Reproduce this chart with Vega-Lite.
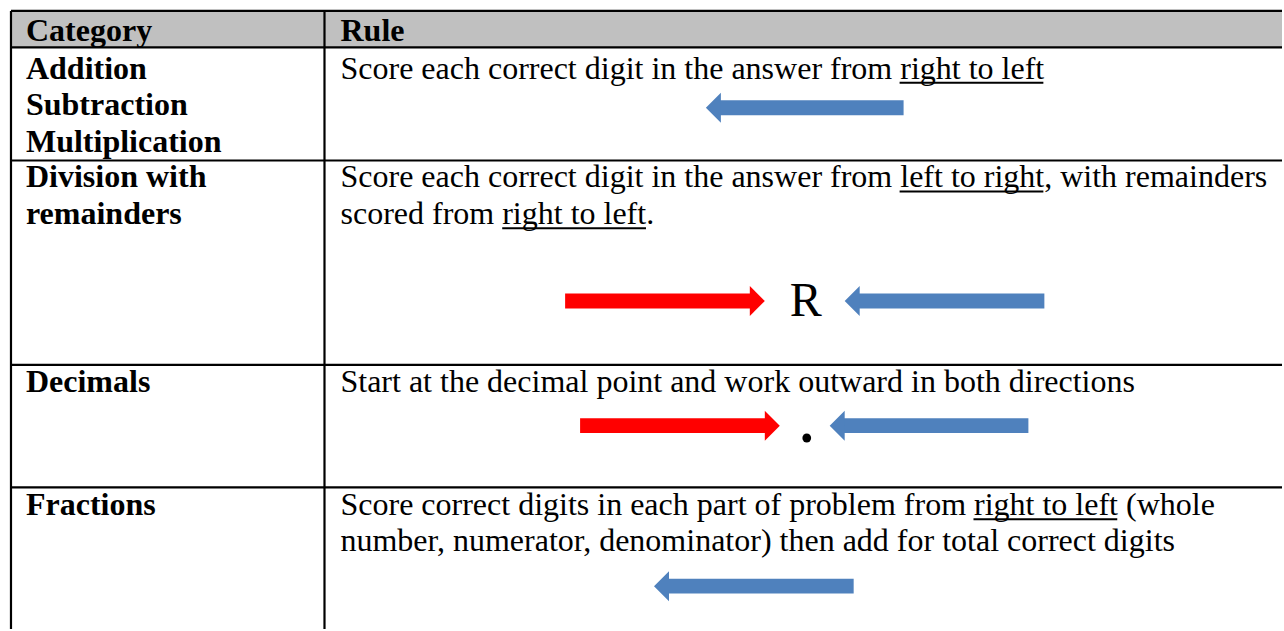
{
  "$schema": "https://vega.github.io/schema/vega-lite/v6.json",
  "autosize": {"type": "fit", "contains": "padding"},
  "width": 1284,
  "height": 631,
  "padding": 0,
  "background": "white",
  "config": {"view": {"stroke": null}},
  "datasets": {
    "header": [{"x": 11, "x2": 1284, "y": 11, "y2": 47.5}],
    "bold": [
      {"label": "Category", "x": 26, "y": 41},
      {"label": "Rule", "x": 341, "y": 41},
      {"label": "Addition", "x": 26, "y": 79},
      {"label": "Subtraction", "x": 26, "y": 115.5},
      {"label": "Multiplication", "x": 26, "y": 152},
      {"label": "Division with", "x": 26, "y": 188},
      {"label": "remainders", "x": 26, "y": 225},
      {"label": "Decimals", "x": 26, "y": 393},
      {"label": "Fractions", "x": 26, "y": 517}
    ],
    "normal": [
      {"label": "Score each correct digit in the answer from right to left", "x": 341, "y": 79},
      {"label": "Score each correct digit in the answer from left to right, with remainders", "x": 341, "y": 188},
      {"label": "scored from right to left.", "x": 341, "y": 225},
      {"label": "Start at the decimal point and work outward in both directions", "x": 341, "y": 393},
      {"label": "Score correct digits in each part of problem from right to left (whole", "x": 341, "y": 517},
      {"label": "number, numerator, denominator) then add for total correct digits", "x": 341, "y": 553}
    ],
    "symbols": [
      {"label": "R", "x": 807, "y": 317}
    ],
    "point": [
      {"label": ".", "x": 808, "y": 443}
    ],
    "underlines": [
      {"x": 901, "x2": 1045, "y": 83},
      {"x": 901, "x2": 1045, "y": 192},
      {"x": 503, "x2": 647, "y": 229},
      {"x": 975, "x2": 1119, "y": 521}
    ],
    "shafts": [
      {"dir": "left", "x": 721, "x2": 905, "y": 100.5, "y2": 115.5},
      {"dir": "right", "x": 566, "x2": 752, "y": 294.5, "y2": 309.5},
      {"dir": "left", "x": 860, "x2": 1046, "y": 294.5, "y2": 309.5},
      {"dir": "right", "x": 581, "x2": 767, "y": 419.5, "y2": 434.5},
      {"dir": "left", "x": 845, "x2": 1030, "y": 419.5, "y2": 434.5},
      {"dir": "left", "x": 669, "x2": 855, "y": 580.5, "y2": 595.5}
    ],
    "heads": [
      {"dir": "left", "x": 707, "y": 108},
      {"dir": "right", "x": 766, "y": 302},
      {"dir": "left", "x": 846, "y": 302},
      {"dir": "right", "x": 781, "y": 427},
      {"dir": "left", "x": 831, "y": 427},
      {"dir": "left", "x": 655, "y": 588}
    ],
    "hlines": [
      {"x": 11, "x2": 1284, "y": 11},
      {"x": 11, "x2": 1284, "y": 47.5},
      {"x": 11, "x2": 1284, "y": 161},
      {"x": 11, "x2": 1284, "y": 366},
      {"x": 11, "x2": 1284, "y": 489}
    ],
    "vlines": [
      {"x": 11, "y": 11, "y2": 631},
      {"x": 325, "y": 11, "y2": 631}
    ]
  },
  "encoding": {
    "x": {"field": "x", "type": "quantitative", "scale": {"domain": [0, 1284], "nice": false, "zero": false}, "axis": null},
    "y": {"field": "y", "type": "quantitative", "scale": {"domain": [0, 631], "nice": false, "zero": false, "reverse": true}, "axis": null}
  },
  "layer": [
    {
      "data": {"name": "header"},
      "mark": {"type": "rect", "color": "#C0C0C0"},
      "encoding": {"x2": {"field": "x2"}, "y2": {"field": "y2"}}
    },
    {
      "data": {"name": "bold"},
      "mark": {"type": "text", "font": "Liberation Serif", "fontSize": 32, "fontWeight": "bold", "align": "left", "baseline": "alphabetic", "color": "black"},
      "encoding": {"text": {"field": "label"}}
    },
    {
      "data": {"name": "normal"},
      "mark": {"type": "text", "font": "Liberation Serif", "fontSize": 32, "align": "left", "baseline": "alphabetic", "color": "black"},
      "encoding": {"text": {"field": "label"}}
    },
    {
      "data": {"name": "symbols"},
      "mark": {"type": "text", "font": "Liberation Serif", "fontSize": 48, "align": "center", "baseline": "alphabetic", "color": "black"},
      "encoding": {"text": {"field": "label"}}
    },
    {
      "data": {"name": "point"},
      "mark": {"type": "text", "font": "Liberation Serif", "fontSize": 54, "fontWeight": "bold", "align": "center", "baseline": "alphabetic", "color": "black"},
      "encoding": {"text": {"field": "label"}}
    },
    {
      "data": {"name": "underlines"},
      "mark": {"type": "rule", "color": "black", "strokeWidth": 2},
      "encoding": {"x2": {"field": "x2"}}
    },
    {
      "data": {"name": "shafts"},
      "mark": {"type": "rect"},
      "encoding": {
        "x2": {"field": "x2"},
        "y2": {"field": "y2"},
        "color": {"field": "dir", "type": "nominal", "scale": {"domain": ["right", "left"], "range": ["#FF0000", "#4F81BD"]}, "legend": null}
      }
    },
    {
      "data": {"name": "heads"},
      "mark": {"type": "point", "filled": true, "opacity": 1, "size": 900},
      "encoding": {
        "color": {"field": "dir", "type": "nominal", "scale": {"domain": ["right", "left"], "range": ["#FF0000", "#4F81BD"]}, "legend": null},
        "shape": {"field": "dir", "type": "nominal", "scale": {"domain": ["right", "left"], "range": ["M 0 0 L -1 -1 L -1 1 Z", "M 0 0 L 1 -1 L 1 1 Z"]}, "legend": null}
      }
    },
    {
      "data": {"name": "hlines"},
      "mark": {"type": "rule", "color": "black", "strokeWidth": 2.2},
      "encoding": {"x2": {"field": "x2"}}
    },
    {
      "data": {"name": "vlines"},
      "mark": {"type": "rule", "color": "black", "strokeWidth": 2.2},
      "encoding": {"y2": {"field": "y2"}}
    }
  ]
}
